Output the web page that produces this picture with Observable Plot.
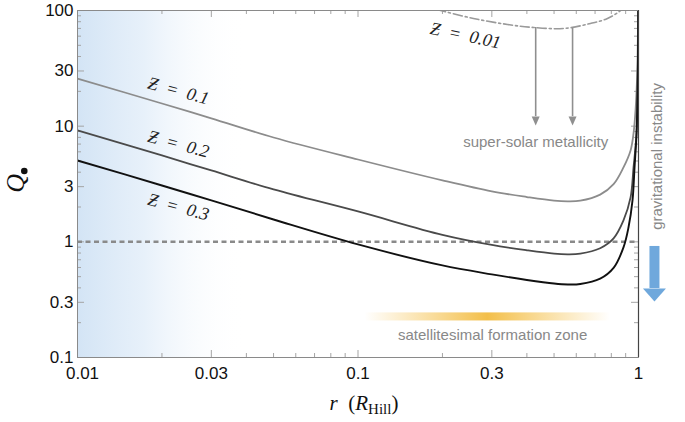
<!DOCTYPE html>
<html>
<head>
<meta charset="utf-8">
<script src="https://cdn.jsdelivr.net/npm/d3@7"></script>
<script src="https://cdn.jsdelivr.net/npm/@observablehq/plot@0.6"></script>
<style>
  html, body { margin: 0; padding: 0; background: #fff; }
  #chart { width: 685px; height: 422px; }
</style>
</head>
<body>
<div id="chart"></div>
<script>
// ---- data ----
const xTicks = [0.01, 0.03, 0.1, 0.3, 1];
const yTicks = [0.1, 0.3, 1, 3, 10, 30, 100];

const rZ01 = [0.01, 0.02, 0.03, 0.05, 0.1, 0.2, 0.3, 0.4, 0.5, 0.56, 0.62, 0.73, 0.815, 0.884, 0.937, 0.96, 0.976, 0.99, 0.998];
const qZ01 = [25.8, 15.7, 11.7, 7.98, 5.15, 3.40, 2.73, 2.44, 2.27, 2.24, 2.27, 2.56, 3.15, 4.40, 6.17, 8.65, 13.7, 30, 150];

const rZ02 = [0.01, 0.02, 0.03, 0.05, 0.1, 0.2, 0.3, 0.4, 0.5, 0.56, 0.62, 0.73, 0.815, 0.884, 0.937, 0.96, 0.984, 0.994, 0.999];
const qZ02 = [9.18, 5.58, 4.14, 2.84, 1.83, 1.15, 0.94, 0.845, 0.79, 0.78, 0.79, 0.88, 1.07, 1.53, 2.42, 4.40, 8.65, 25, 150];

const rZ03 = [0.01, 0.02, 0.03, 0.05, 0.1, 0.2, 0.3, 0.4, 0.5, 0.56, 0.62, 0.73, 0.815, 0.884, 0.921, 0.952, 0.968, 0.984, 0.994, 0.999];
const qZ03 = [5.05, 3.07, 2.28, 1.56, 0.95, 0.625, 0.523, 0.468, 0.436, 0.428, 0.432, 0.48, 0.595, 0.895, 1.33, 2.28, 4.40, 8.65, 25, 150];

const rZ001 = [0.167, 0.197, 0.258, 0.341, 0.423, 0.541, 0.674, 0.775, 0.863, 0.937];
const qZ001 = [110, 100, 85.3, 75.7, 71.3, 69.9, 77.2, 85.3, 100, 122];

const curveLabels = ["Ƶ\u2002=\u20020.1", "Ƶ\u2002=\u20020.2", "Ƶ\u2002=\u20020.3", "Ƶ\u2002=\u20020.01"];
const labelR = [0.0229, 0.0229, 0.0229, 0.2416];
const labelQ = [20.2, 7.0, 2.0, 60.8];

const metalArrowR = [0.43, 0.582];
const metalArrowTop = [71.3, 70.5];
const metalArrowBase = [12.1, 12.1];

const giArrowR = [1.14];
const giArrowTop = [0.912];
const giArrowBase = [0.395];

const zoneR = [0.106, 0.794];
const zoneQ = [0.207, 0.243];
const innerR = [0.01, 0.04];

const annotations = [
  {text: "super-solar metallicity", r: 0.43, q: 7.2},
  {text: "satellitesimal formation zone", r: 0.302, q: 0.155}
];
const giLabel = {text: "gravitational instability", r: 1.17, q: 5.47};

// ---- build ----
const rows = (rs, qs) => rs.map((r, i) => ({r, q: qs[i]}));
const minor = (lo, hi) => {
  const out = [];
  for (let e = Math.log10(lo); e < Math.log10(hi) - 1e-9; e++)
    for (let m = 1; m <= 9; m++) out.push(+(m * Math.pow(10, e)).toPrecision(3));
  out.push(hi);
  return out;
};
const xAll = minor(0.01, 1);
const yAll = minor(0.1, 100);
const xMaj = xAll.filter(v => xTicks.includes(v));
const yMaj = yAll.filter(v => yTicks.includes(v));
const xMin = xAll.filter(v => !xTicks.includes(v));
const yMin = yAll.filter(v => !yTicks.includes(v));

const W = 685, H = 422, mL = 77, mR = 47, mT = 10, mB = 65;
const pW = W - mL - mR, pH = H - mT - mB;

const headSym = (w, h) => ({draw(ctx) { ctx.moveTo(-w / 2, 0); ctx.lineTo(w / 2, 0); ctx.lineTo(0, h); ctx.closePath(); }});

const tickStroke = "#a5a5a5";
const serif = "Liberation Serif";
const sans = "Liberation Sans";
const fmt = d => String(d);

const chart = Plot.plot({
  width: W, height: H,
  marginLeft: mL, marginRight: mR, marginTop: mT, marginBottom: mB,
  style: {fontFamily: sans, fontSize: "17px", color: "#111", background: "#fff"},
  x: {type: "log", domain: [0.01, 1]},
  y: {type: "log", domain: [0.1, 100]},
  marks: [
    Plot.rect([innerR], {x1: d => d[0], x2: d => d[1], y1: 0.1, y2: 100, fill: "url(#blueFade)"}),
    Plot.rect([zoneR], {x1: d => d[0], x2: d => d[1], y1: zoneQ[0], y2: zoneQ[1], fill: "url(#orangeFade)"}),
    // axes (labels only; ticks drawn inside the frame)
    Plot.axisX(xTicks.slice(0, 1), {tickFormat: fmt, tickSize: 0, tickPadding: 9, dx: 5, label: null, fontSize: 17}),
    Plot.axisX(xTicks.slice(1), {tickFormat: fmt, tickSize: 0, tickPadding: 9, label: null, fontSize: 17}),
    Plot.axisY(yTicks, {tickFormat: fmt, tickSize: 0, tickPadding: 4, label: null, fontSize: 17}),
    // inner ticks
    Plot.tickX(xMin, {x: d => d, insetTop: pH - 4, stroke: tickStroke}),
    Plot.tickX(xMaj, {x: d => d, insetTop: pH - 7, stroke: tickStroke}),
    Plot.tickX(xMin, {x: d => d, insetBottom: pH - 4, stroke: tickStroke}),
    Plot.tickX(xMaj, {x: d => d, insetBottom: pH - 7, stroke: tickStroke}),
    Plot.tickY(yMin, {y: d => d, insetRight: pW - 4, stroke: tickStroke}),
    Plot.tickY(yMaj, {y: d => d, insetRight: pW - 7, stroke: tickStroke}),
    Plot.tickY(yMin, {y: d => d, insetLeft: pW - 4, stroke: tickStroke}),
    Plot.tickY(yMaj, {y: d => d, insetLeft: pW - 7, stroke: tickStroke}),
    Plot.ruleY([1], {stroke: "#8a8a8a", strokeWidth: 2.5, strokeDasharray: "5,3.5"}),
    Plot.line(rows(rZ001, qZ001), {x: "r", y: "q", curve: "catmull-rom", stroke: "#9a9a9a", strokeWidth: 1.6, strokeDasharray: "9,3,2,3", clip: true}),
    Plot.line(rows(rZ01, qZ01), {x: "r", y: "q", curve: "catmull-rom", stroke: "#8c8c8c", strokeWidth: 1.8, clip: true}),
    Plot.line(rows(rZ02, qZ02), {x: "r", y: "q", curve: "catmull-rom", stroke: "#4a4a4a", strokeWidth: 1.8, clip: true}),
    Plot.line(rows(rZ03, qZ03), {x: "r", y: "q", curve: "catmull-rom", stroke: "#111", strokeWidth: 1.9, clip: true}),
    Plot.frame({stroke: "#8a8a8a"}),
    Plot.ruleX([1], {stroke: "#444", strokeWidth: 1.2}),
    // metallicity arrows
    Plot.ruleX(metalArrowR, {x: d => d, y1: (d, i) => metalArrowTop[i], y2: (d, i) => metalArrowBase[i], stroke: "#8f8f8f", strokeWidth: 1.6}),
    Plot.dot(metalArrowR, {x: d => d, y: (d, i) => metalArrowBase[i], symbol: headSym(8, 9), fill: "#8f8f8f", stroke: "none"}),
    // gravitational instability arrow
    Plot.ruleX(giArrowR, {x: d => d, y1: (d, i) => giArrowTop[i], y2: (d, i) => giArrowBase[i], stroke: "#6fa8dc", strokeWidth: 10}),
    Plot.dot(giArrowR, {x: d => d, y: (d, i) => giArrowBase[i], symbol: headSym(23, 13), fill: "#6fa8dc", stroke: "none"}),
    // curve labels
    Plot.text(curveLabels, {x: (d, i) => labelR[i], y: (d, i) => labelQ[i], text: d => d, rotate: (d, i) => (i === 3 ? 12 : 15), fontFamily: serif, fontStyle: "italic", fontSize: 18, fill: "#222"}),
    // annotations
    Plot.text(annotations, {x: "r", y: "q", text: "text", fontFamily: sans, fontSize: 15, fill: "#888"}),
    Plot.text([giLabel], {x: "r", y: "q", text: "text", rotate: -90, fontFamily: sans, fontSize: 15, fill: "#888"}),
    // axis labels
    Plot.text(["Q"], {x: 0.0060, y: 3.2, text: d => d, rotate: -90, fontFamily: serif, fontStyle: "italic", fontSize: 26, fill: "#111"}),
    Plot.dot(["•"], {x: 0.00646, y: 4.1, r: 3.3, fill: "#111", stroke: "none"}),
    Plot.text(["r (RHill)"], {frameAnchor: "bottom", dx: 6, dy: 46, lineAnchor: "middle", text: d => d, fontFamily: serif, fontSize: 21, fill: "#111"})
  ]
});

// gradients
const ns = "http://www.w3.org/2000/svg";
const defs = document.createElementNS(ns, "defs");
defs.innerHTML = `
  <linearGradient id="blueFade" x1="0" x2="1" y1="0" y2="0">
    <stop offset="0" stop-color="#d3e4f5" stop-opacity="1"/>
    <stop offset="0.4" stop-color="#e3eef9" stop-opacity="0.85"/>
    <stop offset="1" stop-color="#ffffff" stop-opacity="0"/>
  </linearGradient>
  <linearGradient id="orangeFade" x1="0" x2="1" y1="0" y2="0">
    <stop offset="0" stop-color="#f6c350" stop-opacity="0"/>
    <stop offset="0.5" stop-color="#f3bf4a" stop-opacity="1"/>
    <stop offset="1" stop-color="#f6c350" stop-opacity="0"/>
  </linearGradient>`;
chart.insertBefore(defs, chart.firstChild);

// rich x label
chart.querySelectorAll("text").forEach(t => {
  if (t.textContent === "r (RHill)") {
    t.textContent = "";
    const add = (s, attrs) => {
      const ts = document.createElementNS(ns, "tspan");
      ts.textContent = s;
      for (const k in attrs) ts.setAttribute(k, attrs[k]);
      t.appendChild(ts);
    };
    add("r", {"font-style": "italic"});
    add("\u2002(", {});
    add("R", {"font-style": "italic"});
    add("Hill", {"font-size": 15, dy: 4});
    add(")", {dy: -4});
  }
});

document.getElementById("chart").appendChild(chart);
</script>
</body>
</html>
